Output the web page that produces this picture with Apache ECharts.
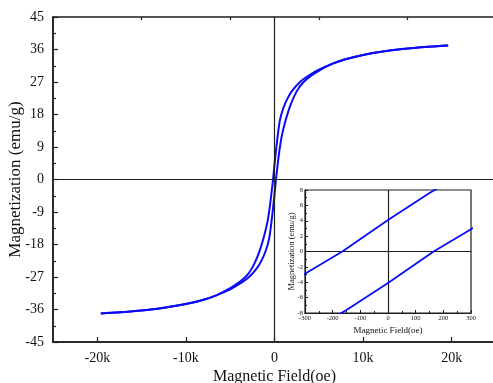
<!DOCTYPE html>
<html>
<head>
<meta charset="utf-8">
<script src="https://cdn.jsdelivr.net/npm/echarts@6/dist/echarts.min.js"></script>
<style>
  html, body { margin: 0; padding: 0; background: #fff; }
  #chart { width: 493px; height: 383px; }
</style>
</head>
<body>
<div id="chart"></div>
<script>
// Hysteresis loop: descending-field branch (from +H to -H)
const fieldUpper = [19600, 16000, 13000, 10000, 8000, 6500, 5000, 4000, 3000, 2000, 1500, 1000, 600, 300, 150, 0,
  -165, -300, -500, -800, -1280, -1800, -2500, -3200, -4000, -5000, -6500, -8000, -10000, -13000, -16000, -19600];
const magUpper = [37.1, 36.5, 35.7, 34.5, 33.3, 32.0, 30.4, 29.0, 27.3, 24.6, 22.6, 19.8, 16.3, 10.8, 7.6, 4.1,
  0, -2.9, -7.0, -11.8, -16.6, -20.6, -24.4, -26.8, -28.5, -30.1, -32.0, -33.3, -34.5, -35.7, -36.5, -37.1];

// Ascending-field branch (from -H to +H)
const fieldLower = [-19600, -16000, -13000, -10000, -8000, -6500, -5000, -4000, -3000, -2000, -1500, -1000, -600, -300, -150, 0,
  165, 300, 500, 800, 1280, 1800, 2500, 3200, 4000, 5000, 6500, 8000, 10000, 13000, 16000, 19600];
const magLower = [-37.1, -36.5, -35.7, -34.5, -33.3, -32.0, -30.4, -29.0, -27.3, -24.6, -22.6, -19.8, -16.3, -10.8, -7.6, -4.1,
  0, 2.9, 7.0, 11.8, 16.6, 20.6, 24.4, 26.8, 28.5, 30.1, 32.0, 33.3, 34.5, 35.7, 36.5, 37.1];

// Axis ticks
const mainFieldTicks = [-20000, -10000, 0, 10000, 20000];
const mainFieldMinorTicks = [-15000, -5000, 5000, 15000];
const mainMagTicks = [-45, -36, -27, -18, -9, 0, 9, 18, 27, 36, 45];
const insetFieldTicks = [-300, -200, -100, 0, 100, 200, 300];
const insetMagTicks = [-8, -6, -4, -2, 0, 2, 4, 6, 8];

const pair = (xs, ys) => xs.map((x, i) => [x, ys[i]]);

const AXIS = '#1e1e1e';
const LINE = '#0a0af8';
const FONT = '"Liberation Serif", "Times New Roman", serif';

// Crosshair through the origin of each panel
const zeroLines = {
  silent: true,
  symbol: 'none',
  label: { show: false },
  lineStyle: { color: AXIS, type: 'solid', width: 1.2 },
  data: [{ xAxis: 0 }, { yAxis: 0 }]
};

const chart = echarts.init(document.getElementById('chart'), null, { renderer: 'canvas' });

chart.setOption({
  animation: false,
  backgroundColor: '#fff',
  grid: [
    { left: 53, top: 17, right: -3, bottom: 41, containLabel: false, outerBoundsMode: 'none',
      show: true, borderColor: AXIS, borderWidth: 1.5, backgroundColor: 'transparent' },
    { left: 305, top: 190, width: 166, height: 123, containLabel: false, outerBoundsMode: 'none',
      show: true, borderColor: AXIS, borderWidth: 1.2, backgroundColor: '#fff' }
  ],
  xAxis: [
    {
      gridIndex: 0, type: 'value', min: -25000, max: 25000,
      name: 'Magnetic Field(oe)', nameLocation: 'middle', nameGap: 27, nameMoveOverlap: false,
      nameTextStyle: { fontFamily: FONT, fontSize: 16, color: '#111' },
      splitLine: { show: false },
      axisLine: { onZero: false, lineStyle: { color: AXIS, width: 1.5 } },
      axisTick: { inside: true, length: 5, customValues: mainFieldTicks, lineStyle: { color: AXIS, width: 1.2 } },
      axisLabel: { customValues: mainFieldTicks, margin: 9, fontFamily: FONT, fontSize: 14, color: '#111',
        formatter: v => v === 0 ? '0' : (v / 1000) + 'k' }
    },
    {
      gridIndex: 0, type: 'value', min: -25000, max: 25000,
      splitLine: { show: false },
      axisLine: { show: false, onZero: false },
      axisTick: { inside: true, length: 3, customValues: mainFieldMinorTicks, lineStyle: { color: AXIS, width: 1.2 } },
      axisLabel: { show: false }
    },
    {
      gridIndex: 1, type: 'value', min: -300, max: 300, interval: 100,
      name: 'Magnetic Field(oe)', nameLocation: 'middle', nameGap: 13, nameMoveOverlap: false,
      nameTextStyle: { fontFamily: FONT, fontSize: 9, color: '#111' },
      splitLine: { show: false },
      axisLine: { onZero: false, lineStyle: { color: AXIS, width: 1.2 } },
      axisTick: { inside: true, length: 3, lineStyle: { color: AXIS } },
      minorTick: { show: true, splitNumber: 2, length: 2, lineStyle: { color: AXIS } },
      axisLabel: { customValues: insetFieldTicks, margin: 2, fontFamily: FONT, fontSize: 6.5, color: '#111' }
    }
  ],
  yAxis: [
    {
      gridIndex: 0, type: 'value', min: -45, max: 45, interval: 9,
      name: 'Magnetization (emu/g)', nameLocation: 'middle', nameGap: 29, nameMoveOverlap: false,
      nameTextStyle: { fontFamily: FONT, fontSize: 17, color: '#111' },
      splitLine: { show: false },
      axisLine: { onZero: false, lineStyle: { color: AXIS, width: 1.5 } },
      axisTick: { inside: true, length: 5, lineStyle: { color: AXIS, width: 1.2 } },
      minorTick: { show: true, splitNumber: 2, length: 3, lineStyle: { color: AXIS, width: 1.2 } },
      axisLabel: { customValues: mainMagTicks, margin: 9, fontFamily: FONT, fontSize: 14, color: '#111' }
    },
    {
      gridIndex: 1, type: 'value', min: -8, max: 8, interval: 2,
      name: 'Magnetization (emu/g)', nameLocation: 'middle', nameGap: 9, nameMoveOverlap: false,
      nameTextStyle: { fontFamily: FONT, fontSize: 8.5, color: '#111' },
      splitLine: { show: false },
      axisLine: { onZero: false, lineStyle: { color: AXIS, width: 1.2 } },
      axisTick: { inside: true, length: 3, lineStyle: { color: AXIS } },
      minorTick: { show: true, splitNumber: 2, length: 2, lineStyle: { color: AXIS } },
      axisLabel: { customValues: insetMagTicks, margin: 2, fontFamily: FONT, fontSize: 6.5, color: '#111' }
    }
  ],
  series: [
    {
      type: 'line', xAxisIndex: 0, yAxisIndex: 0, smooth: 0.25, showSymbol: false, symbol: 'none',
      data: pair(fieldUpper, magUpper),
      lineStyle: { color: LINE, width: 2 },
      markLine: zeroLines, z: 3
    },
    {
      type: 'line', xAxisIndex: 0, yAxisIndex: 0, smooth: 0.25, showSymbol: false, symbol: 'none',
      data: pair(fieldLower, magLower),
      lineStyle: { color: LINE, width: 2 }, z: 3
    },
    {
      type: 'line', xAxisIndex: 2, yAxisIndex: 1, smooth: false, showSymbol: false, symbol: 'none', clip: true,
      data: pair(fieldUpper, magUpper),
      lineStyle: { color: LINE, width: 1.8 },
      markLine: zeroLines, z: 5
    },
    {
      type: 'line', xAxisIndex: 2, yAxisIndex: 1, smooth: false, showSymbol: false, symbol: 'none', clip: true,
      data: pair(fieldLower, magLower),
      lineStyle: { color: LINE, width: 1.8 }, z: 5
    }
  ]
});
</script>
</body>
</html>
